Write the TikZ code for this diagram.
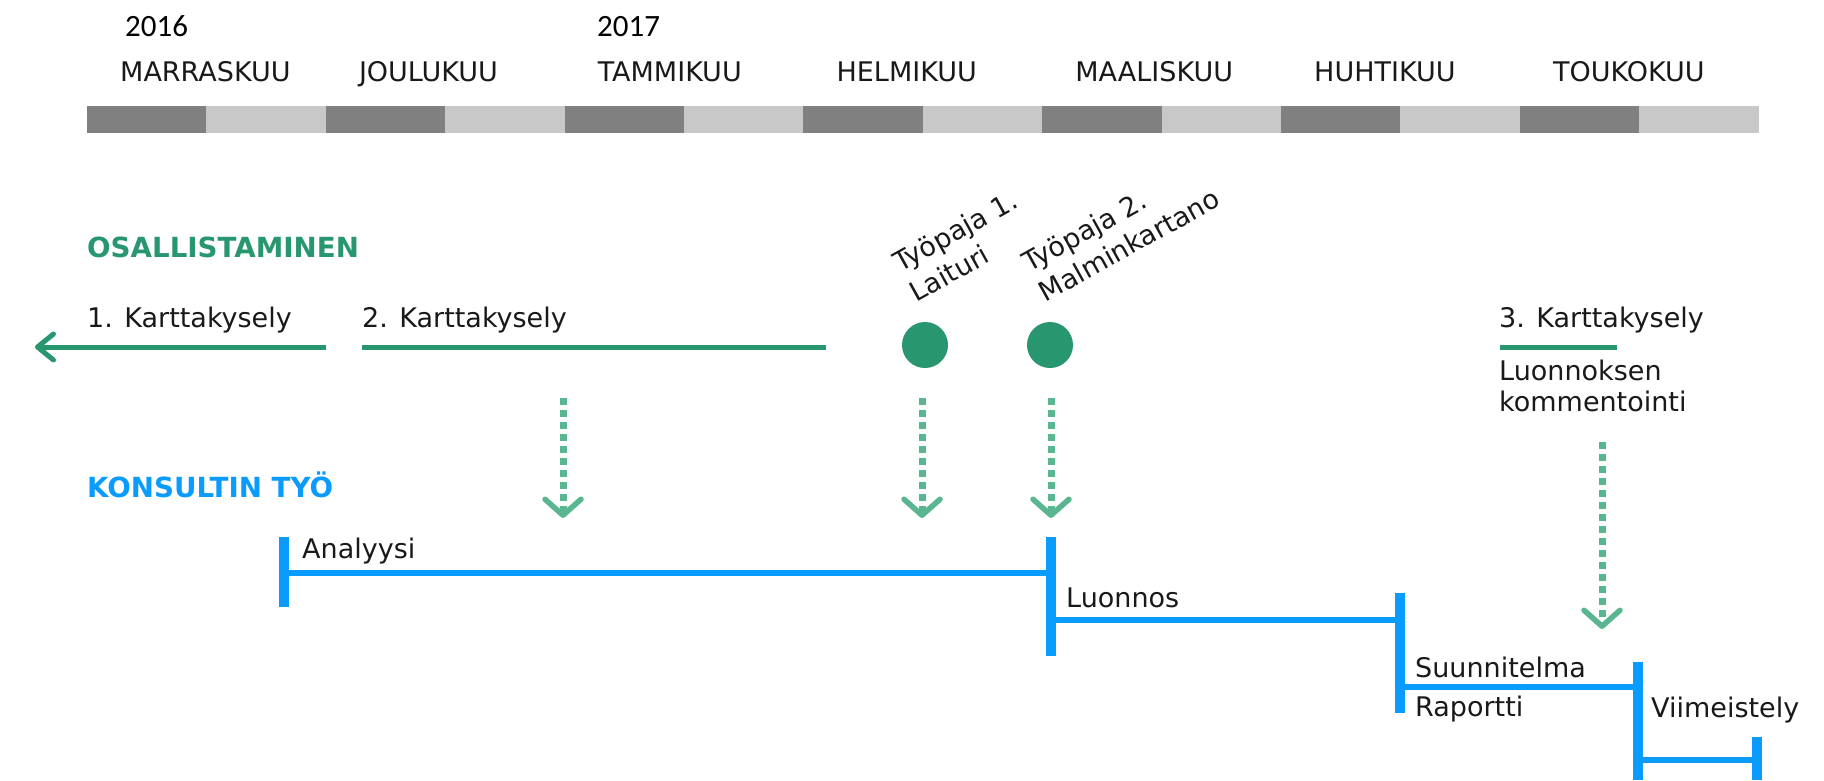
\documentclass[tikz,border=0pt]{standalone}
\usepackage{fontspec}
\setmainfont{DejaVu Sans}
\newfontfamily\yearfont{Carlito}
\usetikzlibrary{arrows.meta}
\definecolor{grn}{RGB}{40,150,110}
\definecolor{lgrn}{RGB}{90,182,145}
\definecolor{blu}{RGB}{10,155,255}
\definecolor{dgray}{RGB}{128,128,128}
\definecolor{lgray}{RGB}{200,200,200}
\definecolor{txt}{RGB}{25,25,25}
\begin{document}
\begin{tikzpicture}[x=1pt,y=-1pt,
  lab/.style={inner sep=0pt, anchor=base west, text=txt, font=\fontsize{27}{32}\selectfont},
  head/.style={inner sep=0pt, anchor=base west, font=\fontsize{27.7}{32}\selectfont\bfseries},
  yr/.style={inner sep=0pt, anchor=base west, text=black, font=\fontsize{31}{36}\selectfont\yearfont},
  gline/.style={draw=grn, line width=5pt},
  feed/.style={draw=lgrn, line width=7pt, dash pattern=on 7pt off 5pt,
    -{Straight Barb[round,length=16pt,width=36pt,line width=5.5pt]}},
  phase/.style={draw=blu, line width=6pt},
  tickbar/.style={draw=blu, line width=10pt},
  dot/.style={circle, fill=grn, inner sep=0pt, minimum size=46pt},
  rot/.style={lab, rotate=29}]
\useasboundingbox (0,0) rectangle (1824,780);

% years
\node[yr] (y16) at (125,36) {2016};
\node[yr] (y17) at (597,36) {2017};

% month bar and labels
\foreach \i/\m in {0/MARRASKUU,1/JOULUKUU,2/TAMMIKUU,3/HELMIKUU,4/MAALISKUU,5/HUHTIKUU,6/TOUKOKUU}{
  \fill[dgray] (87+238.8*\i,106) rectangle ++(119.4,27);
  \fill[lgray] (87+238.8*\i+119.4,106) rectangle ++(119.4,27);
  \node[lab] (m\i) at (87+238.8*\i+33,81) {\m};
}

% participation
\node[head, text=grn] (osal) at (87,257) {OSALLISTAMINEN};
\node[lab] (k1) at (87,327) {1. Karttakysely};
\node[lab] (k2) at (362,327) {2. Karttakysely};
\coordinate (k1s) at (326,347);
\coordinate (k1e) at (35,347);
\draw[gline, -{Straight Barb[round,length=16pt,width=26pt]}] (k1s) -- (k1e);
\coordinate (k2s) at (362,347);
\coordinate (k2e) at (826,347);
\draw[gline] (k2s) -- (k2e);

\node[dot] (w1) at (925,345) {};
\node[dot] (w2) at (1050,345) {};
\node[rot] (t1a) at (900,273) {Työpaja 1.};
\node[rot] (t1b) at (916.5,302.7) {Laituri};
\node[rot] (t2a) at (1029,273) {Työpaja 2.};
\node[rot] (t2b) at (1045.5,302.7) {Malminkartano};

\node[lab] (k3) at (1499,327) {3. Karttakysely};
\coordinate (k3s) at (1500,347);
\coordinate (k3e) at (1617,347);
\draw[gline] (k3s) -- (k3e);
\node[lab] (lk1) at (1499,380) {Luonnoksen};
\node[lab] (lk2) at (1499,411) {kommentointi};

% feedback arrows
\coordinate (f1s) at (563,398); \coordinate (f1e) at (563,518);
\coordinate (f2s) at (922,398); \coordinate (f2e) at (922,518);
\coordinate (f3s) at (1051,398); \coordinate (f3e) at (1051,518);
\coordinate (f4s) at (1602,442); \coordinate (f4e) at (1602,629);
\draw[feed] (f1s) -- (f1e);
\draw[feed] (f2s) -- (f2e);
\draw[feed] (f3s) -- (f3e);
\draw[feed] (f4s) -- (f4e);

% consultant work
\node[head, text=blu] (kons) at (87,497) {KONSULTIN TYÖ};

\coordinate (a1) at (284,537); \coordinate (a2) at (284,607); \coordinate (am) at (284,573);
\coordinate (b1) at (1051,537); \coordinate (b2) at (1051,656);
\coordinate (bm) at (1051,573); \coordinate (bl) at (1051,620);
\coordinate (c1) at (1400,593); \coordinate (c2) at (1400,713);
\coordinate (cm) at (1400,620); \coordinate (cl) at (1400,687);
\coordinate (d1) at (1638,662); \coordinate (d2) at (1638,780);
\coordinate (dm) at (1638,687); \coordinate (dl) at (1638,760);
\coordinate (e1) at (1757,737); \coordinate (e2) at (1757,780);
\coordinate (em) at (1757,760);

\draw[phase] (am) -- (bm);
\draw[phase] (bl) -- (cm);
\draw[phase] (cl) -- (dm);
\draw[phase] (dl) -- (em);
\draw[tickbar] (a1) -- (a2);
\draw[tickbar] (b1) -- (b2);
\draw[tickbar] (c1) -- (c2);
\draw[tickbar] (d1) -- (d2);
\draw[tickbar] (e1) -- (e2);

\node[lab] (p1) at (302,558) {Analyysi};
\node[lab] (p2) at (1066,607) {Luonnos};
\node[lab] (p3) at (1415,677) {Suunnitelma};
\node[lab] (p3b) at (1415,716) {Raportti};
\node[lab] (p4) at (1651,717) {Viimeistely};
\end{tikzpicture}
\end{document}
